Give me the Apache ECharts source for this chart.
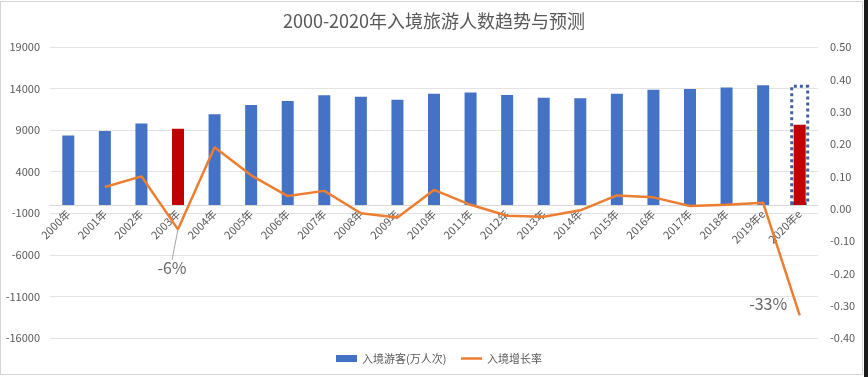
<!DOCTYPE html>
<html><head><meta charset="utf-8">
<script src="https://cdn.jsdelivr.net/npm/echarts@6/dist/echarts.min.js"></script>
<style>html,body{margin:0;padding:0;background:#fff}#c{width:868px;height:377px}</style>
</head><body><div id="c"></div>
<script>
const categories = ['2000年','2001年','2002年','2003年','2004年','2005年','2006年','2007年','2008年','2009年','2010年','2011年','2012年','2013年','2014年','2015年','2016年','2017年','2018年','2019年e','2020年e'];
const visitors = [8344,8901,9791,9166,10904,12029,12494,13187,13003,12648,13376,13542,13241,12908,12850,13382,13844,13948,14120,14400,9650];
const growth = [null,0.067,0.10,-0.064,0.19,0.103,0.039,0.055,-0.014,-0.027,0.058,0.012,-0.022,-0.025,-0.005,0.041,0.035,0.008,0.012,0.018,-0.33];
const highlightIdx = [3,20];
const forecastBox = [null,null,null,null,null,null,null,null,null,null,null,null,null,null,null,null,null,null,null,null,14450];
const leftTicks = {min:-16000,max:19000,interval:5000};
const rightTicks = {min:-0.4,max:0.5,interval:0.1};
const seriesNames = ['入境游客(万人次)','入境增长率'];
const annotated = {3:'-6%',20:'-33%'};

const txt = '#595959';
const chart = echarts.init(document.getElementById('c'));
chart.setOption({
  animation:false,
  backgroundColor:'#fff',
  textStyle:{fontFamily:'"Noto Sans CJK SC","Noto Sans",sans-serif'},
  title:{text:'2000-2020年入境旅游人数趋势与预测',left:'center',top:7,
    textStyle:{fontSize:18,fontWeight:'normal',color:txt,fontFamily:'"Noto Sans CJK SC",sans-serif'}},
  legend:[
    {data:[{name:seriesNames[0],icon:'rect'}],left:331,top:348,itemWidth:21,itemHeight:7,
     textStyle:{color:txt,fontSize:11}},
    {data:[{name:seriesNames[1],icon:'rect'}],left:456,top:348,itemWidth:21,itemHeight:2.5,
     textStyle:{color:txt,fontSize:11}}
  ],
  grid:{left:50,right:50,top:47,bottom:39,containLabel:false},
  xAxis:[{type:'category',data:categories,position:'bottom',offset:-133,
    axisLine:{onZero:false,lineStyle:{color:'#d9d9d9'}},axisTick:{show:false},
    axisLabel:{rotate:45,color:txt,fontSize:11,margin:7,interval:0}},
   {type:'category',data:categories,show:false}],
  yAxis:[{type:'value',min:leftTicks.min,max:leftTicks.max,interval:leftTicks.interval,
    axisLine:{show:false},axisTick:{show:false},
    axisLabel:{color:txt,fontSize:11,margin:10,formatter:v=>String(v)},
    splitLine:{lineStyle:{color:'#e3e3e3'}}},
   {type:'value',min:rightTicks.min,max:rightTicks.max,interval:rightTicks.interval,
    axisLine:{show:false},axisTick:{show:false},splitLine:{show:false},
    axisLabel:{color:txt,fontSize:11,margin:12,formatter:v=>v.toFixed(2)}}],
  series:[
    {name:seriesNames[0],type:'bar',barWidth:12,itemStyle:{color:'#4472C4'},z:3,
     data:visitors.map((v,i)=>highlightIdx.includes(i)?{value:v,itemStyle:{color:'#C00000'}}:v)},
    {name:'box',type:'bar',xAxisIndex:1,barWidth:19,z:2,silent:true,
     itemStyle:{color:'rgba(0,0,0,0)',borderColor:'#3f5f9f',borderWidth:3,borderType:[3,3]},
     data:forecastBox},
    {name:seriesNames[1],type:'line',yAxisIndex:1,symbol:'none',z:4,
     lineStyle:{color:'#ED7D31',width:2.5},itemStyle:{color:'#ED7D31'},
     data:growth},
    {name:'annot',type:'scatter',yAxisIndex:1,symbolSize:1,z:5,silent:true,
     itemStyle:{color:'rgba(0,0,0,0)'},
     labelLayout:function(p){
       if(p.dataIndex===3) return {dx:-6,dy:26};
       if(p.dataIndex===20) return {dx:0,dy:-11};
       return {};
     },
     data:growth.map((v,i)=>{
       if(annotated[i]===undefined) return null;
       const isLast = i===20;
       return {value:v,
         label:{show:true,formatter:annotated[i],fontSize:16,color:'#404040',
           position:isLast?'left':'bottom',distance:isLast?12:4},
         labelLine:{show:!isLast,lineStyle:{color:'#a6a6a6',width:1}}};
     })}
  ],
  graphic:[
    {type:'rect',shape:{x:0.5,y:1.5,width:862,height:373},style:{fill:'none',stroke:'#d4d4d4',lineWidth:1},silent:true},
    {type:'rect',shape:{x:864,y:0,width:4,height:377},style:{fill:'#1a1a1a'},silent:true}
  ]
});
</script></body></html>
